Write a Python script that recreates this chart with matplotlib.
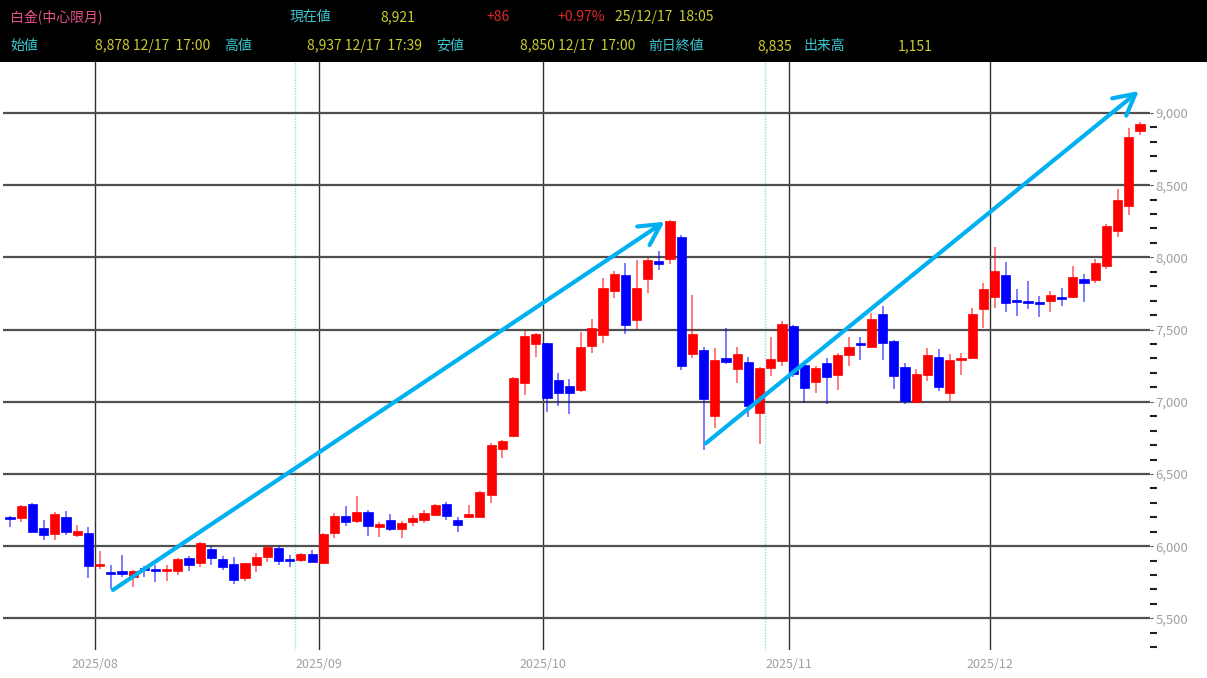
import numpy as np
import matplotlib
matplotlib.use('Agg')
import matplotlib.pyplot as plt
from matplotlib.ticker import FuncFormatter, FixedLocator

plt.rcParams['font.family'] = ['Noto Sans CJK JP', 'DejaVu Sans']

# 日足 OHLC（2025/07 末 〜 2025/12/18 夜間）
opens = [6205, 6195, 6290, 6125, 6085, 6200, 6075, 6090,
         5860, 5818, 5825, 5785, 5848, 5840, 5826, 5831, 5916, 5881,
         5983, 5909, 5877, 5782, 5870, 5928, 5985, 5910, 5905, 5946,
         5881, 6094, 6209, 6175, 6239, 6131, 6182, 6117, 6168, 6182,
         6216, 6292, 6182, 6200, 6205, 6355, 6671, 6760, 7133, 7400,
         7405, 7151, 7110, 7082, 7386, 7463, 7770, 7878, 7566, 7850,
         7977, 7989, 8144, 7331, 7359, 6902, 7301, 7225, 7278, 6920,
         7232, 7283,
         7527, 7255, 7140, 7267, 7186, 7324, 7410, 7382, 7606, 7423,
         7239, 6996, 7186, 7313, 7059, 7290, 7301, 7640,
         7724, 7878, 7705, 7700, 7690, 7698, 7724, 7724, 7851, 7844,
         7943, 8183, 8356, 8878]
highs = [6210, 6285, 6298, 6180, 6235, 6245, 6145, 6135,
         5965, 5870, 5940, 5835, 5860, 5870, 5868, 5918, 5932, 6027,
         6002, 5932, 5923, 5886, 5955, 6008, 6002, 5940, 5950, 5975,
         6090, 6232, 6275, 6348, 6250, 6170, 6223, 6177, 6216, 6250,
         6290, 6308, 6200, 6285, 6385, 6712, 6735, 7170, 7493, 7475,
         7410, 7197, 7156, 7486, 7571, 7855, 7906, 7960, 7982, 7993,
         8046, 8256, 8155, 7740, 7382, 7370, 7509, 7382, 7313, 7240,
         7447, 7562,
         7530, 7267, 7250, 7301, 7336, 7446, 7446, 7612, 7663, 7428,
         7266, 7225, 7370, 7366, 7331, 7340, 7647, 7825,
         8070, 7971, 7780, 7837, 7730, 7768, 7786, 7940, 7885, 7987,
         8231, 8471, 8894, 8937]
lows = [6135, 6170, 6095, 6045, 6045, 6080, 6065, 5780,
        5845, 5700, 5790, 5720, 5790, 5755, 5760, 5800, 5830, 5855,
        5870, 5835, 5738, 5760, 5824, 5893, 5870, 5855, 5893, 5890,
        5875, 6060, 6140, 6158, 6070, 6062, 6108, 6055, 6140, 6158,
        6212, 6182, 6100, 6198, 6200, 6300, 6610, 6755, 7047, 7310,
        6932, 6970, 6915, 7070, 7336, 7405, 7716, 7470, 7502, 7751,
        7913, 7955, 7220, 7300, 6666, 6817, 7262, 7128, 6897, 6706,
        7181, 7248,
        7175, 6990, 7059, 6985, 7082, 7248, 7290, 7375, 7290, 7089,
        6985, 6990, 7146, 7075, 7008, 7186, 7295, 7509,
        7650, 7625, 7595, 7640, 7585, 7625, 7664, 7717, 7694, 7825,
        7917, 8144, 8294, 8850]
closes = [6185, 6280, 6100, 6075, 6225, 6100, 6105, 5865,
          5880, 5808, 5805, 5830, 5832, 5826, 5840, 5911, 5870, 6020,
          5918, 5854, 5766, 5881, 5923, 5997, 5898, 5900, 5946, 5893,
          6085, 6212, 6170, 6239, 6142, 6154, 6119, 6163, 6198, 6232,
          6285, 6209, 6147, 6221, 6378, 6701, 6729, 7163, 7456, 7467,
          7024, 7063, 7060, 7382, 7509, 7786, 7883, 7532, 7786, 7982,
          7952, 8254, 7250, 7467, 7020, 7290, 7273, 7331, 6971, 7232,
          7294, 7539,
          7190, 7098, 7236, 7174, 7324, 7377, 7395, 7571, 7405, 7179,
          7008, 7193, 7324, 7100, 7290, 7301, 7606, 7779,
          7906, 7687, 7692, 7683, 7675, 7740, 7712, 7867, 7826, 7959,
          8218, 8398, 8835, 8921]

month_pos = [7.6, 27.6, 47.6, 69.6, 87.6]
month_labels = ['2025/08', '2025/09', '2025/10', '2025/11', '2025/12']
roll_pos = [25.5, 67.45]   # 水色の点線
price_ticks = [5500, 6000, 6500, 7000, 7500, 8000, 8500, 9000]

# 矢印（始点, 終点）: (足の番号, 価格)
arrow1 = [(9.2, 5697), (58.5, 8247)]
arrow2 = [(62.2, 6713), (100.9, 9152)]

# ヘッダー
header_row1 = [('白金(中心限月)', 10, '#e8508c'), ('現在値', 290, '#3cc8d2'),
               ('8,921', 380, '#cccc30'), ('+86', 486, '#e02828'),
               ('+0.97%', 557, '#e02828'), ('25/12/17  18:05', 615, '#cccc30')]
header_row2 = [('始値', 10, '#3cc8d2'), ('8,878 12/17  17:00', 95, '#cccc30'),
               ('高値', 224, '#3cc8d2'), ('8,937 12/17  17:39', 307, '#cccc30'),
               ('安値', 436, '#3cc8d2'), ('8,850 12/17  17:00', 520, '#cccc30'),
               ('前日終値', 648, '#3cc8d2'), ('8,835', 757, '#cccc30'),
               ('出来高', 803, '#3cc8d2'), ('1,151', 898, '#cccc30')]

W, H = 1207, 678
fig = plt.figure(figsize=(W / 100, H / 100), dpi=100)
fig.patch.set_facecolor('white')

# 黒い帯
hax = fig.add_axes([0, 1 - 62 / H, 1, 62 / H])
hax.set_facecolor('black')
hax.set_xticks([])
hax.set_yticks([])
for s in hax.spines.values():
    s.set_visible(False)
for txt, x, col in header_row1:
    fig.text(x / W, 1 - 17 / H, txt, color=col, fontsize=10, va='center', ha='left')
for txt, x, col in header_row2:
    fig.text(x / W, 1 - 46 / H, txt, color=col, fontsize=10, va='center', ha='left')

ax = fig.add_axes([3 / W, 28 / H, (1150 - 3) / W, (650 - 62) / H])
o = np.array(opens)
h = np.array(highs)
l = np.array(lows)
c = np.array(closes)
idx = np.arange(len(o))
up = c >= o
cols = np.where(up, '#ff0000', '#0000ff')

ax.vlines(idx, l, h, colors=cols, linewidth=1.2, alpha=0.6, zorder=3)
body = np.maximum(np.abs(c - o), 12)
ax.bar(idx, body, bottom=np.minimum(o, c), width=0.82, color=cols,
       edgecolor=cols, linewidth=0.5, zorder=4)

for pos in month_pos:
    ax.axvline(pos, color='#303030', lw=1.0, zorder=1)
for pos in roll_pos:
    ax.axvline(pos, color='#7fe3e8', lw=1.0, ls=(0, (1, 1)), zorder=1)
for yv in price_ticks:
    ax.axhline(yv, color='#505050', lw=1.6, zorder=1)

for a in (arrow1, arrow2):
    ax.annotate('', xy=a[1], xytext=a[0],
                arrowprops=dict(arrowstyle='->,head_length=0.75,head_width=0.4',
                                color='#00b0f0', lw=3, mutation_scale=20,
                                shrinkA=0, shrinkB=0), zorder=5)

ax.set_xlim(-0.63, 101.9)
ax.set_ylim(5281, 9353)
ax.set_xticks(month_pos)
ax.set_xticklabels(month_labels)
ax.tick_params(axis='x', length=0, pad=6, labelsize=9, labelcolor='#a0a0a0')
ax.yaxis.tick_right()
ax.set_yticks(price_ticks)
ax.yaxis.set_major_formatter(FuncFormatter(lambda v, p: f'{int(v):,}'))
ax.yaxis.set_minor_locator(FixedLocator(np.arange(5300, 9000, 100)))
ax.tick_params(axis='y', which='major', length=2, color='#505050', pad=2,
               labelsize=9.5, labelcolor='#a0a0a0')
ax.tick_params(axis='y', which='minor', length=5, width=1.5, color='#202020')
for s in ax.spines.values():
    s.set_visible(False)

fig.savefig('out.png', dpi=100)
